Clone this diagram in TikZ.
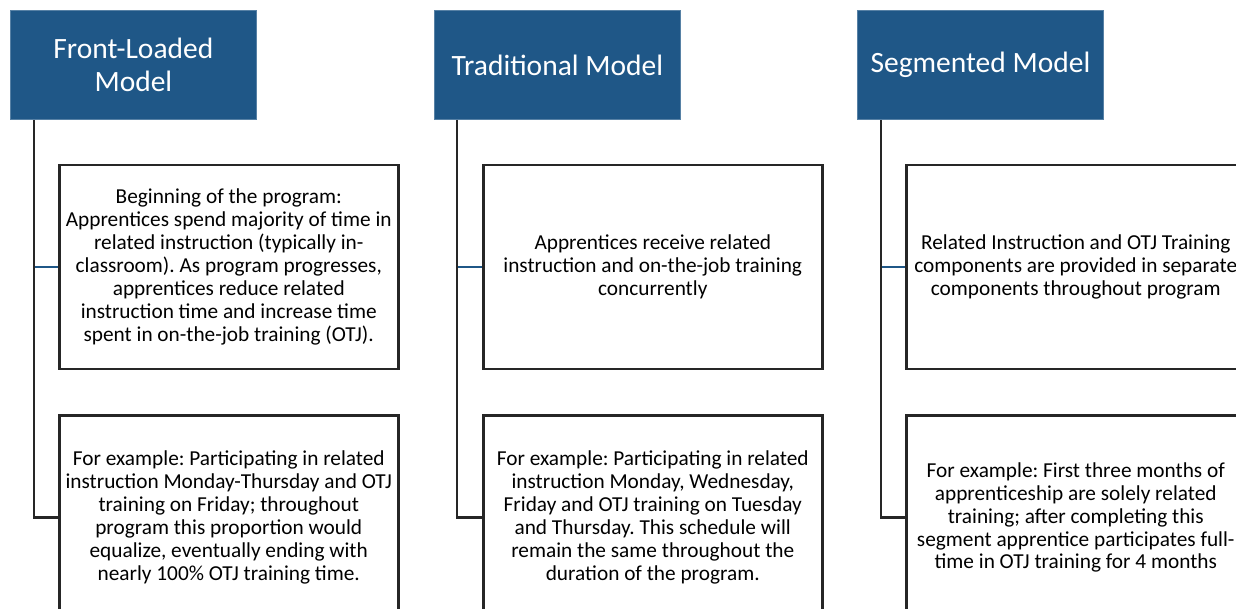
\documentclass[tikz,border=0pt]{standalone}
\usepackage{fontspec}
\setmainfont{Carlito}
\usetikzlibrary{positioning}
\definecolor{modelblue}{RGB}{31,87,135}
\definecolor{boxgray}{RGB}{38,38,38}

\begin{document}
\frenchspacing
\begin{tikzpicture}[x=1pt, y=-1pt,
    model/.style={fill=modelblue, draw=modelblue!75!white, line width=0.8pt, text=white,
        minimum width=246pt, minimum height=109pt, inner sep=0pt, align=center,
        font=\fontsize{29.5}{33}\selectfont},
    detail/.style={fill=white, draw=boxgray, line width=2.5pt, text=black,
        minimum width=339pt, minimum height=204pt, inner sep=0pt, align=center,
        font=\fontsize{21.3}{22.9}\selectfont},
    trunk/.style={draw=boxgray, line width=2.5pt},
    branch/.style={draw=modelblue, line width=2pt}]

    \useasboundingbox (0,0) rectangle (1236,608);
    \clip (0,0) rectangle (1236,608);

    % Model headers
    \node[model, anchor=north west] (front) at (10,10) {Front-Loaded\\Model};
    \node[model, anchor=north west] (trad) at (434,10) {Traditional Model};
    \node[model, anchor=north west] (seg) at (857,10) {Segmented Model};

    % Description boxes
    \node[detail, below right=44pt and 48pt of front.south west] (frontinfo)
        {Beginning of the program:\\Apprentices spend majority of time in\\related instruction (typically in-\\classroom). As program progresses,\\apprentices reduce related\\instruction time and increase time\\spent in on-the-job training (OTJ).};
    \node[detail, below right=44pt and 48pt of trad.south west] (tradinfo)
        {Apprentices receive related\\instruction and on-the-job training\\concurrently};
    \node[detail, below right=44pt and 48pt of seg.south west] (seginfo)
        {Related Instruction and OTJ Training\\components are provided in separate\\components throughout program};

    % Example boxes
    \node[detail, below=44pt of frontinfo] (frontex)
        {For example: Participating in related\\instruction Monday-Thursday and OTJ\\training on Friday; throughout\\program this proportion would\\equalize, eventually ending with\\nearly 100\% OTJ training time.};
    \node[detail, below=44pt of tradinfo] (tradex)
        {For example: Participating in related\\instruction Monday, Wednesday,\\Friday and OTJ training on Tuesday\\and Thursday. This schedule will\\remain the same throughout the\\duration of the program.};
    \node[detail, below=44pt of seginfo] (segex)
        {For example: First three months of\\apprenticeship are solely related\\training; after completing this\\segment apprentice participates full-\\time in OTJ training for 4 months};

    % Roots of the connector lines
    \coordinate (frontroot) at ([xshift=24pt]front.south west);
    \coordinate (tradroot) at ([xshift=23pt]trad.south west);
    \coordinate (segroot) at ([xshift=24pt]seg.south west);

    % Blue branches to the description boxes
    \draw[branch] (frontroot |- frontinfo.west) -- (frontinfo.west);
    \draw[branch] (tradroot |- tradinfo.west) -- (tradinfo.west);
    \draw[branch] (segroot |- seginfo.west) -- (seginfo.west);

    % Trunks down to the example boxes
    \draw[trunk] (frontroot) |- (frontex.west);
    \draw[trunk] (tradroot) |- (tradex.west);
    \draw[trunk] (segroot) |- (segex.west);

\end{tikzpicture}
\end{document}
